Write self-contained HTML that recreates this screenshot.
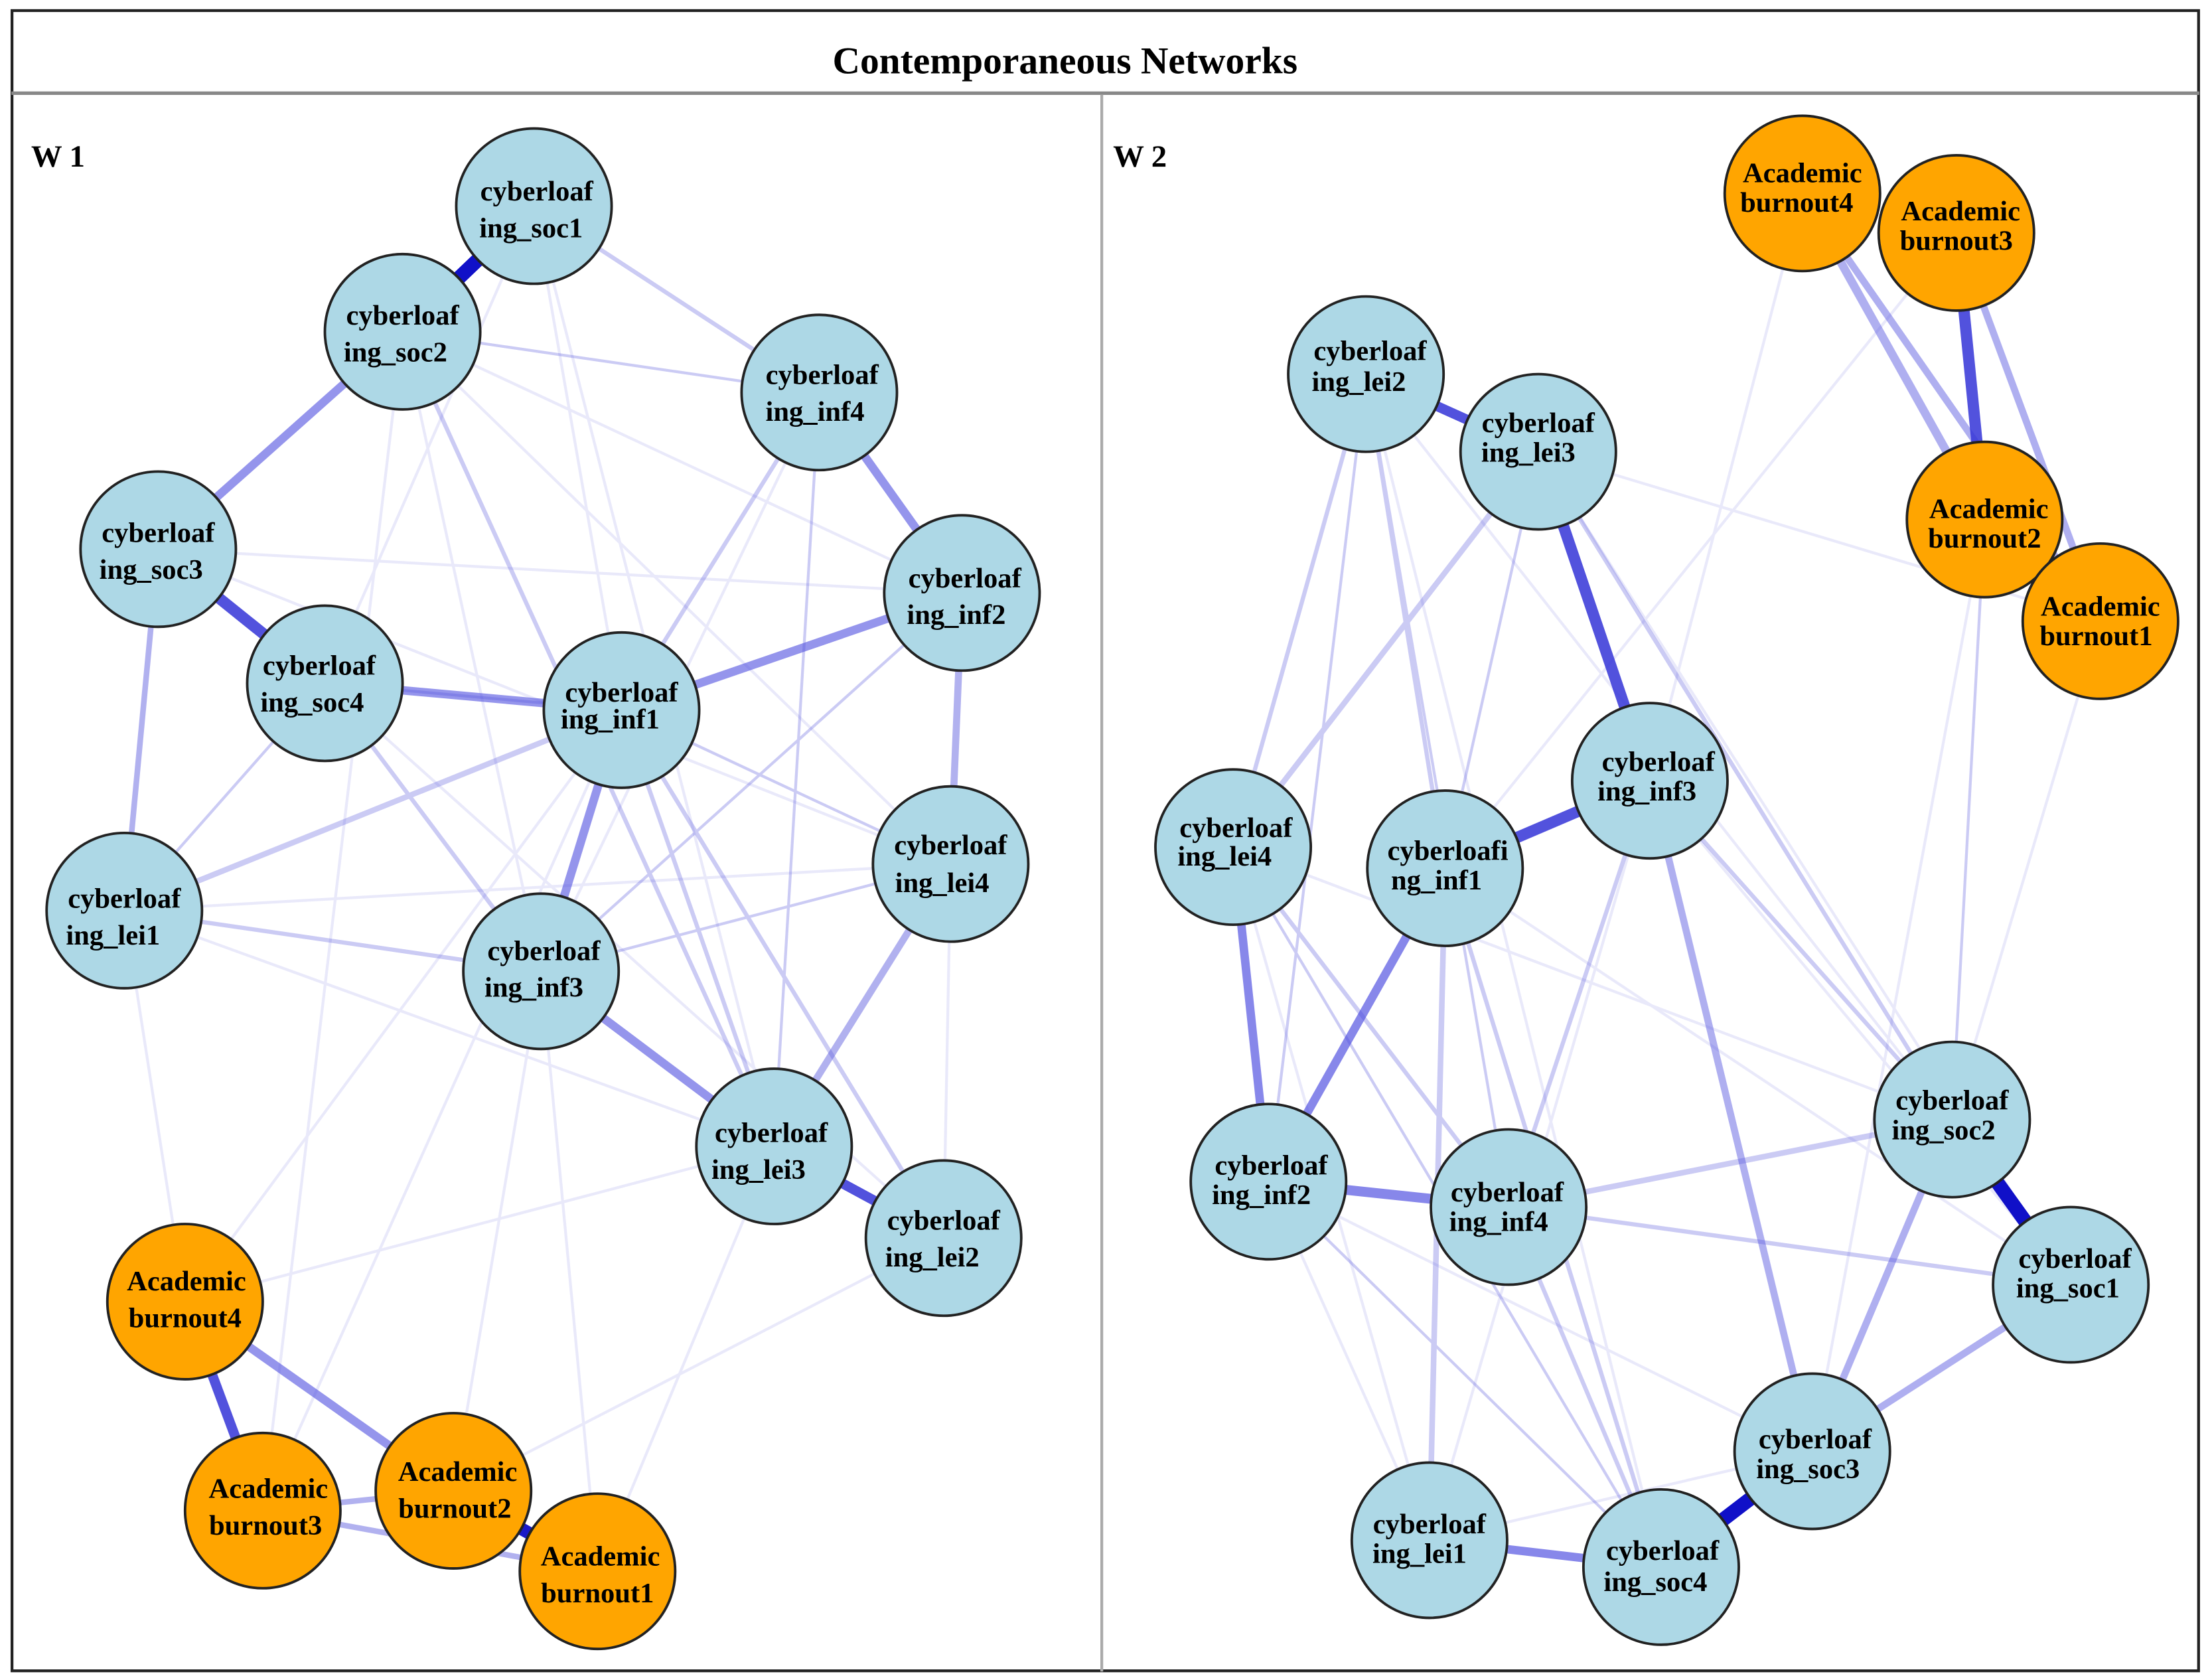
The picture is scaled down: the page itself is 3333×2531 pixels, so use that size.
<!DOCTYPE html>
<html><head><meta charset="utf-8"><style>
html,body{margin:0;padding:0;background:#fff;}
svg{display:block;}
text{font-family:"Liberation Serif",serif;font-weight:bold;}
</style></head><body>
<svg width="3333" height="2531" viewBox="0 0 1566 1190" preserveAspectRatio="none" xmlns="http://www.w3.org/2000/svg">
<rect x="0" y="0" width="1566" height="1190" fill="#fff"/>
<!-- frame -->
<rect x="8.5" y="7.5" width="1548" height="1176" fill="none" stroke="#222" stroke-width="2"/>
<line x1="8" y1="66" x2="1557" y2="66" stroke="#888" stroke-width="2.5"/>
<line x1="780" y1="67" x2="780" y2="1184" stroke="#aaa" stroke-width="2"/>
<text x="754" y="52" font-size="27" text-anchor="middle">Contemporaneous Networks</text>
<text x="22" y="118" font-size="22">W 1</text>
<text x="788" y="118" font-size="22">W 2</text>

<g stroke-linecap="butt">
<!-- W1 faint edges -->
<g stroke="#5555dd" stroke-width="2" opacity="0.12">
<line x1="378" y1="146" x2="440" y2="503"/><line x1="378" y1="146" x2="548" y2="812"/>
<line x1="285" y1="235" x2="383" y2="688"/><line x1="285" y1="235" x2="673" y2="612"/>
<line x1="112" y1="389" x2="681" y2="420"/><line x1="112" y1="389" x2="673" y2="612"/>
<line x1="230" y1="484" x2="668" y2="877"/><line x1="88" y1="645" x2="673" y2="612"/>
<line x1="88" y1="645" x2="548" y2="812"/><line x1="580" y1="278" x2="383" y2="688"/>
<line x1="131" y1="922" x2="440" y2="503"/><line x1="186" y1="1070" x2="285" y2="235"/>
<line x1="321" y1="1056" x2="383" y2="688"/><line x1="423" y1="1113" x2="548" y2="812"/>
<line x1="131" y1="922" x2="548" y2="812"/><line x1="88" y1="645" x2="131" y2="922"/>
<line x1="186" y1="1070" x2="440" y2="503"/><line x1="423" y1="1113" x2="383" y2="688"/>
<line x1="673" y1="612" x2="668" y2="877"/><line x1="321" y1="1056" x2="668" y2="877"/>
<line x1="285" y1="235" x2="681" y2="420"/><line x1="378" y1="146" x2="230" y2="484"/>
</g>
<g stroke="#5555dd" opacity="0.3">
<line x1="378" y1="146" x2="580" y2="278" stroke-width="3"/>
<line x1="285" y1="235" x2="580" y2="278" stroke-width="2"/>
<line x1="580" y1="278" x2="440" y2="503" stroke-width="3"/>
<line x1="580" y1="278" x2="548" y2="812" stroke-width="2"/>
<line x1="230" y1="484" x2="88" y2="645" stroke-width="2"/>
<line x1="230" y1="484" x2="383" y2="688" stroke-width="3"/>
<line x1="88" y1="645" x2="440" y2="503" stroke-width="4"/>
<line x1="88" y1="645" x2="383" y2="688" stroke-width="3"/>
<line x1="440" y1="503" x2="548" y2="812" stroke-width="3"/>
<line x1="440" y1="503" x2="668" y2="877" stroke-width="3"/>
<line x1="285" y1="235" x2="548" y2="812" stroke-width="3"/>
<line x1="383" y1="688" x2="673" y2="612" stroke-width="2"/>
<line x1="383" y1="688" x2="681" y2="420" stroke-width="2"/>
<line x1="440" y1="503" x2="673" y2="612" stroke-width="2"/>
<line x1="230" y1="484" x2="440" y2="503" stroke-width="2"/>
</g>
<g stroke="#5555dd" opacity="0.45">
<line x1="112" y1="389" x2="88" y2="645" stroke-width="4"/>
<line x1="681" y1="420" x2="673" y2="612" stroke-width="5"/>
<line x1="673" y1="612" x2="548" y2="812" stroke-width="5"/>
<line x1="186" y1="1070" x2="423" y2="1113" stroke-width="4"/>
<line x1="186" y1="1070" x2="321" y2="1056" stroke-width="4"/>
</g>
<g stroke="#5050e0" opacity="0.6">
<line x1="285" y1="235" x2="112" y2="389" stroke-width="6"/>
<line x1="580" y1="278" x2="681" y2="420" stroke-width="6"/>
<line x1="230" y1="484" x2="440" y2="503" stroke-width="6"/>
<line x1="440" y1="503" x2="681" y2="420" stroke-width="6"/>
<line x1="440" y1="503" x2="383" y2="688" stroke-width="6"/>
<line x1="383" y1="688" x2="548" y2="812" stroke-width="6"/>
<line x1="131" y1="922" x2="321" y2="1056" stroke-width="6"/>
</g>
<g stroke="#3535d8" opacity="0.85">
<line x1="548" y1="812" x2="668" y2="877" stroke-width="7"/>
<line x1="131" y1="922" x2="186" y2="1070" stroke-width="7"/>
<line x1="112" y1="389" x2="230" y2="484" stroke-width="8"/>
</g>
<line x1="378" y1="146" x2="285" y2="235" stroke="#1010c8" stroke-width="10"/>
<line x1="321" y1="1056" x2="423" y2="1113" stroke="#1a1ac8" stroke-width="9"/>

<!-- W2 faint edges -->
<g stroke="#5555dd" stroke-width="2" opacity="0.12">
<line x1="1276" y1="137" x2="1168" y2="553"/><line x1="1385" y1="165" x2="1023" y2="615"/>
<line x1="1487" y1="440" x2="1382" y2="793"/><line x1="1405" y1="368" x2="1283" y2="1028"/>
<line x1="1089" y1="320" x2="1466" y2="910"/><line x1="967" y1="265" x2="1176" y2="1110"/>
<line x1="873" y1="600" x2="1382" y2="793"/><line x1="873" y1="600" x2="1012" y2="1091"/>
<line x1="898" y1="837" x2="1012" y2="1091"/><line x1="1023" y1="615" x2="1466" y2="910"/>
<line x1="1168" y1="553" x2="1466" y2="910"/><line x1="1089" y1="320" x2="1487" y2="440"/>
<line x1="898" y1="837" x2="1283" y2="1028"/><line x1="1168" y1="553" x2="1012" y2="1091"/>
<line x1="1012" y1="1091" x2="1283" y2="1028"/><line x1="967" y1="265" x2="1382" y2="793"/>
</g>
<g stroke="#5555dd" opacity="0.3">
<line x1="967" y1="265" x2="873" y2="600" stroke-width="3"/>
<line x1="967" y1="265" x2="1023" y2="615" stroke-width="3"/>
<line x1="967" y1="265" x2="898" y2="837" stroke-width="2"/>
<line x1="967" y1="265" x2="1068" y2="855" stroke-width="2"/>
<line x1="1089" y1="320" x2="873" y2="600" stroke-width="4"/>
<line x1="1089" y1="320" x2="1382" y2="793" stroke-width="3"/>
<line x1="1089" y1="320" x2="1023" y2="615" stroke-width="2"/>
<line x1="1023" y1="615" x2="1012" y2="1091" stroke-width="4"/>
<line x1="1023" y1="615" x2="1176" y2="1110" stroke-width="3"/>
<line x1="873" y1="600" x2="1068" y2="855" stroke-width="3"/>
<line x1="873" y1="600" x2="1176" y2="1110" stroke-width="2"/>
<line x1="1168" y1="553" x2="1382" y2="793" stroke-width="3"/>
<line x1="1168" y1="553" x2="1068" y2="855" stroke-width="3"/>
<line x1="1068" y1="855" x2="1382" y2="793" stroke-width="4"/>
<line x1="1068" y1="855" x2="1466" y2="910" stroke-width="3"/>
<line x1="1068" y1="855" x2="1176" y2="1110" stroke-width="3"/>
<line x1="898" y1="837" x2="1176" y2="1110" stroke-width="2"/>
<line x1="1405" y1="368" x2="1382" y2="793" stroke-width="2"/>
</g>
<g stroke="#5050e0" opacity="0.45">
<line x1="1168" y1="553" x2="1283" y2="1028" stroke-width="5"/>
<line x1="1283" y1="1028" x2="1382" y2="793" stroke-width="5"/>
<line x1="1283" y1="1028" x2="1466" y2="910" stroke-width="5"/>
<line x1="1276" y1="137" x2="1487" y2="440" stroke-width="5"/>
<line x1="1385" y1="165" x2="1487" y2="440" stroke-width="5"/>
<line x1="1276" y1="137" x2="1405" y2="368" stroke-width="6"/>
</g>
<g stroke="#4848e0" opacity="0.65">
<line x1="873" y1="600" x2="898" y2="837" stroke-width="6"/>
<line x1="1023" y1="615" x2="898" y2="837" stroke-width="6"/>
<line x1="898" y1="837" x2="1068" y2="855" stroke-width="7"/>
<line x1="1012" y1="1091" x2="1176" y2="1110" stroke-width="6"/>
</g>
<g stroke="#3535d8" opacity="0.85">
<line x1="967" y1="265" x2="1089" y2="320" stroke-width="7"/>
<line x1="1089" y1="320" x2="1168" y2="553" stroke-width="8"/>
<line x1="1168" y1="553" x2="1023" y2="615" stroke-width="8"/>
<line x1="1385" y1="165" x2="1405" y2="368" stroke-width="8"/>
</g>
<line x1="1382" y1="793" x2="1466" y2="910" stroke="#1010c8" stroke-width="10"/>
<line x1="1283" y1="1028" x2="1176" y2="1110" stroke="#1010c8" stroke-width="10"/>
</g>

<g stroke="#222" stroke-width="1.8">
<g fill="#add8e6">
<circle cx="378" cy="146" r="55"/><circle cx="285" cy="235" r="55"/><circle cx="580" cy="278" r="55"/>
<circle cx="112" cy="389" r="55"/><circle cx="681" cy="420" r="55"/><circle cx="230" cy="484" r="55"/>
<circle cx="440" cy="503" r="55"/><circle cx="673" cy="612" r="55"/><circle cx="88" cy="645" r="55"/>
<circle cx="383" cy="688" r="55"/><circle cx="548" cy="812" r="55"/><circle cx="668" cy="877" r="55"/>
<circle cx="967" cy="265" r="55"/><circle cx="1089" cy="320" r="55"/><circle cx="1168" cy="553" r="55"/>
<circle cx="873" cy="600" r="55"/><circle cx="1023" cy="615" r="55"/><circle cx="1382" cy="793" r="55"/>
<circle cx="898" cy="837" r="55"/><circle cx="1068" cy="855" r="55"/><circle cx="1466" cy="910" r="55"/>
<circle cx="1283" cy="1028" r="55"/><circle cx="1012" cy="1091" r="55"/><circle cx="1176" cy="1110" r="55"/>
</g>
<g fill="#ffa500">
<circle cx="131" cy="922" r="55"/><circle cx="186" cy="1070" r="55"/><circle cx="321" cy="1056" r="55"/><circle cx="423" cy="1113" r="55"/>
<circle cx="1276" cy="137" r="55"/><circle cx="1385" cy="165" r="55"/><circle cx="1405" cy="368" r="55"/><circle cx="1487" cy="440" r="55"/>
</g>
</g>

<g font-size="20" text-anchor="middle" fill="#000">
<text x="380" y="142">cyberloaf</text><text x="376" y="168">ing_soc1</text>
<text x="285" y="230">cyberloaf</text><text x="280" y="256">ing_soc2</text>
<text x="582" y="272">cyberloaf</text><text x="577" y="298">ing_inf4</text>
<text x="112" y="384">cyberloaf</text><text x="107" y="410">ing_soc3</text>
<text x="683" y="416">cyberloaf</text><text x="677" y="442">ing_inf2</text>
<text x="226" y="478">cyberloaf</text><text x="221" y="504">ing_soc4</text>
<text x="440" y="497">cyberloaf</text><text x="432" y="516">ing_inf1</text>
<text x="673" y="605">cyberloaf</text><text x="667" y="632">ing_lei4</text>
<text x="88" y="643">cyberloaf</text><text x="80" y="669">ing_lei1</text>
<text x="385" y="680">cyberloaf</text><text x="378" y="706">ing_inf3</text>
<text x="546" y="809">cyberloaf</text><text x="537" y="835">ing_lei3</text>
<text x="668" y="871">cyberloaf</text><text x="660" y="897">ing_lei2</text>
<text x="132" y="914">Academic</text><text x="131" y="940">burnout4</text>
<text x="190" y="1061">Academic</text><text x="188" y="1087">burnout3</text>
<text x="324" y="1049">Academic</text><text x="322" y="1075">burnout2</text>
<text x="425" y="1109">Academic</text><text x="423" y="1135">burnout1</text>

<text x="970" y="255">cyberloaf</text><text x="962" y="277">ing_lei2</text>
<text x="1089" y="306">cyberloaf</text><text x="1082" y="327">ing_lei3</text>
<text x="1174" y="546">cyberloaf</text><text x="1166" y="567">ing_inf3</text>
<text x="875" y="593">cyberloaf</text><text x="867" y="613">ing_lei4</text>
<text x="1025" y="609">cyberloafi</text><text x="1017" y="630">ng_inf1</text>
<text x="1382" y="786">cyberloaf</text><text x="1376" y="807">ing_soc2</text>
<text x="900" y="832">cyberloaf</text><text x="893" y="853">ing_inf2</text>
<text x="1067" y="851">cyberloaf</text><text x="1061" y="872">ing_inf4</text>
<text x="1469" y="898">cyberloaf</text><text x="1464" y="919">ing_soc1</text>
<text x="1285" y="1026">cyberloaf</text><text x="1280" y="1047">ing_soc3</text>
<text x="1012" y="1086">cyberloaf</text><text x="1005" y="1107">ing_lei1</text>
<text x="1177" y="1105">cyberloaf</text><text x="1172" y="1127">ing_soc4</text>
<text x="1276" y="129">Academic</text><text x="1272" y="150">burnout4</text>
<text x="1388" y="156">Academic</text><text x="1385" y="177">burnout3</text>
<text x="1408" y="367">Academic</text><text x="1405" y="388">burnout2</text>
<text x="1487" y="436">Academic</text><text x="1484" y="457">burnout1</text>
</g>
</svg>
</body></html>
